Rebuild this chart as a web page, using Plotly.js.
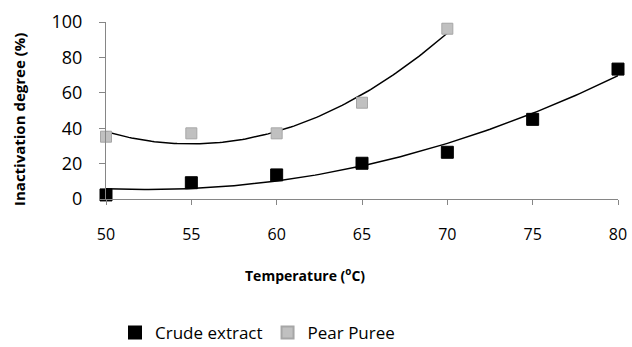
<!DOCTYPE html>
<html>
<head>
<meta charset="utf-8">
<script src="https://cdn.plot.ly/plotly-3.0.1.min.js"></script>
<style>html,body{margin:0;padding:0;background:#fff;}#chart{width:632px;height:347px;}</style>
</head>
<body>
<div id="chart"></div>
<script>
// Data
const crudeTemp = [50, 55, 60, 65, 70, 75, 80];
const crudeInact = [2.3, 9.2, 13.6, 20.2, 26.4, 45, 73.4];
const pearTemp = [50, 55, 60, 65, 70];
const pearInact = [35.2, 37.1, 37.1, 54.4, 96.2];
const xTicks = [50, 55, 60, 65, 70, 75, 80];
const yTicks = [0, 20, 40, 60, 80, 100];

// Second-order polynomial least-squares trendline (like Excel)
function polyFit2(xs, ys) {
  const n = xs.length;
  let s = [0,0,0,0,0], t = [0,0,0];
  for (let i = 0; i < n; i++) {
    const x = xs[i], y = ys[i];
    for (let k = 0; k < 5; k++) s[k] += Math.pow(x, k);
    for (let k = 0; k < 3; k++) t[k] += Math.pow(x, k) * y;
  }
  const M = [[s[0], s[1], s[2], t[0]], [s[1], s[2], s[3], t[1]], [s[2], s[3], s[4], t[2]]];
  for (let c = 0; c < 3; c++) {
    let p = c;
    for (let r = c + 1; r < 3; r++) if (Math.abs(M[r][c]) > Math.abs(M[p][c])) p = r;
    [M[c], M[p]] = [M[p], M[c]];
    for (let r = 0; r < 3; r++) {
      if (r === c) continue;
      const f = M[r][c] / M[c][c];
      for (let k = c; k < 4; k++) M[r][k] -= f * M[c][k];
    }
  }
  return [M[0][3] / M[0][0], M[1][3] / M[1][1], M[2][3] / M[2][2]];
}
function trend(xs, ys) {
  const co = polyFit2(xs, ys);
  const x0 = Math.min(...xs), x1 = Math.max(...xs);
  const tx = [], ty = [];
  for (let i = 0; i <= 120; i++) {
    const x = x0 + (x1 - x0) * i / 120;
    tx.push(x); ty.push(co[0] + co[1] * x + co[2] * x * x);
  }
  return {tx, ty};
}
const crudeTrend = trend(crudeTemp, crudeInact);
const pearTrend = trend(pearTemp, pearInact);

const FONT = "'Open Sans', 'Noto Sans', sans-serif";

const data = [
  {x: crudeTrend.tx, y: crudeTrend.ty, mode: 'lines', line: {color: '#000', width: 1.5}, showlegend: false, hoverinfo: 'skip'},
  {x: pearTrend.tx, y: pearTrend.ty, mode: 'lines', line: {color: '#000', width: 1.5}, showlegend: false, hoverinfo: 'skip'},
  {x: crudeTemp, y: crudeInact, mode: 'markers', name: 'Crude extract', cliponaxis: false,
   marker: {symbol: 'square', size: 12, color: '#000000', line: {color: '#000000', width: 1}}},
  {x: pearTemp, y: pearInact, mode: 'markers', name: 'Pear Puree', cliponaxis: false,
   marker: {symbol: 'square', size: 11, color: '#c0c0c0', line: {color: '#a6a6a6', width: 1}}}
];

const layout = {
  width: 632, height: 347,
  margin: {l: 106, r: 14, t: 22, b: 148, autoexpand: false},
  paper_bgcolor: '#fff', plot_bgcolor: '#fff',
  font: {family: FONT, color: '#000'},
  showlegend: true,
  legend: {orientation: 'h', xref: 'container', yref: 'container',
           x: 115 / 632, xanchor: 'left', y: (347 - 333) / 347, yanchor: 'middle',
           font: {size: 17, family: FONT, color: '#000'}, itemsizing: 'constant', tracegroupgap: 0},
  xaxis: {
    range: [50, 80], tickvals: xTicks, ticktext: xTicks.map(String),
    showgrid: false, zeroline: false, showline: true, linecolor: '#868686', linewidth: 1,
    ticks: 'outside', ticklen: 5, tickcolor: '#868686', ticklabelstandoff: 16,
    tickfont: {size: 16, family: FONT}
  },
  yaxis: {
    range: [0, 100], tickvals: yTicks, ticktext: yTicks.map(String),
    showgrid: false, zeroline: false, showline: true, linecolor: '#868686', linewidth: 1,
    ticks: 'outside', ticklen: 6, tickcolor: '#868686', ticklabelstandoff: 13,
    tickfont: {size: 18, family: FONT}
  },
  annotations: [
    {text: '<b>Temperature (<sup>o</sup>C)</b>', xref: 'paper', yref: 'paper',
     x: (305 - 106) / 512, y: (199 - 275) / 177, xanchor: 'center', yanchor: 'middle',
     showarrow: false, font: {size: 14, family: FONT}},
    {text: '<b>Inactivation degree (%)</b>', xref: 'paper', yref: 'paper', textangle: -90,
     x: (19 - 106) / 512, y: (199 - 120) / 177, xanchor: 'center', yanchor: 'middle',
     showarrow: false, font: {size: 15, family: FONT}}
  ]
};

Plotly.newPlot('chart', data, layout, {displayModeBar: false, staticPlot: true});
</script>
</body>
</html>
